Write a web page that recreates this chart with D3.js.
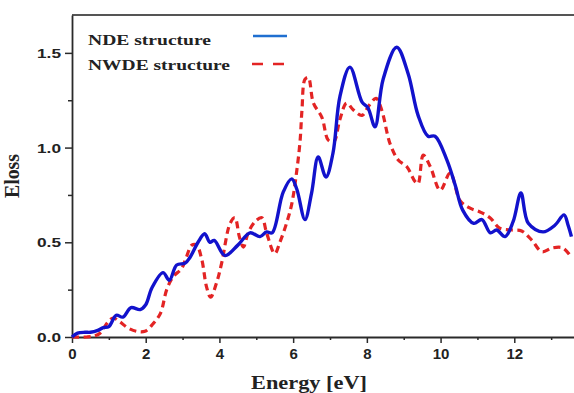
<!DOCTYPE html>
<html><head><meta charset="utf-8">
<script src="https://cdnjs.cloudflare.com/ajax/libs/d3/7.8.5/d3.min.js"></script>
<style>
html,body{margin:0;padding:0;background:#fff;}
svg{display:block;}
</style></head>
<body>
<svg id="chart" width="574" height="393"></svg>
<script>
// ---- data ----
const ndeEnergy = [0, 0.15, 0.35, 0.5, 0.7, 0.85, 1.0, 1.2, 1.38, 1.6, 1.85, 2.0, 2.17, 2.47, 2.64, 2.84, 3.07, 3.2, 3.42, 3.6, 3.74, 3.86, 4.15, 4.5, 4.83, 5.1, 5.28, 5.43, 5.73, 5.96, 6.1, 6.32, 6.5, 6.68, 6.89, 7.08, 7.27, 7.54, 7.87, 8.03, 8.22, 8.44, 8.81, 9.12, 9.39, 9.66, 9.85, 10.17, 10.4, 10.6, 10.9, 11.12, 11.35, 11.52, 11.75, 11.97, 12.18, 12.38, 12.78, 13.1, 13.35, 13.46, 13.55];
const ndeEloss  = [0, 0.02, 0.025, 0.025, 0.035, 0.05, 0.055, 0.115, 0.105, 0.155, 0.145, 0.17, 0.26, 0.34, 0.30, 0.38, 0.39, 0.42, 0.50, 0.545, 0.50, 0.51, 0.43, 0.485, 0.55, 0.53, 0.555, 0.55, 0.765, 0.835, 0.78, 0.62, 0.76, 0.95, 0.845, 0.97, 1.27, 1.425, 1.24, 1.21, 1.11, 1.36, 1.53, 1.39, 1.17, 1.06, 1.06, 0.935, 0.80, 0.67, 0.60, 0.62, 0.55, 0.565, 0.53, 0.61, 0.76, 0.60, 0.555, 0.59, 0.645, 0.59, 0.53];

const nwdeEnergy = [0, 0.4, 0.6, 0.76, 0.98, 1.12, 1.3, 1.5, 1.75, 1.98, 2.2, 2.4, 2.57, 2.75, 2.97, 3.1, 3.25, 3.38, 3.52, 3.65, 3.76, 3.92, 4.06, 4.29, 4.42, 4.54, 4.65, 4.78, 4.97, 5.15, 5.28, 5.5, 5.64, 5.82, 5.96, 6.1, 6.19, 6.24, 6.32, 6.41, 6.55, 6.78, 6.95, 7.1, 7.27, 7.45, 7.63, 7.87, 8.05, 8.25, 8.4, 8.63, 8.85, 9.08, 9.31, 9.39, 9.53, 9.72, 9.99, 10.26, 10.53, 10.8, 11.07, 11.34, 11.6, 11.94, 12.2, 12.48, 12.75, 13.03, 13.32, 13.55];
const nwdeEloss  = [0, 0, 0.005, 0.02, 0.08, 0.10, 0.08, 0.05, 0.03, 0.03, 0.07, 0.125, 0.25, 0.32, 0.36, 0.42, 0.485, 0.485, 0.41, 0.265, 0.21, 0.285, 0.39, 0.60, 0.63, 0.53, 0.475, 0.55, 0.61, 0.63, 0.55, 0.44, 0.50, 0.60, 0.70, 0.88, 1.04, 1.2, 1.36, 1.37, 1.235, 1.16, 1.04, 1.03, 1.15, 1.235, 1.20, 1.17, 1.22, 1.26, 1.20, 1.02, 0.935, 0.90, 0.82, 0.81, 0.96, 0.90, 0.775, 0.865, 0.72, 0.68, 0.66, 0.63, 0.575, 0.565, 0.56, 0.51, 0.45, 0.47, 0.47, 0.42];

const xTicks = [0,1,2,3,4,5,6,7,8,9,10,11,12,13];
const xTickLabels = ["0","","2","","4","","6","","8","","10","","12",""];
const yTicks = [0,0.25,0.5,0.75,1.0,1.25,1.5];
const yTickLabels = ["0.0","","0.5","","1.0","","1.5"];
const seriesNames = ["NDE structure","NWDE structure"];
const xTitle = "Energy [eV]";
const yTitle = "Eloss";

// ---- layout ----
const svg = d3.select("#chart");
const pLeft = 72, pRight = 574, pTop = 15, pBottom = 337;
const x = d3.scaleLinear().domain([0, 13.62]).range([pLeft, pRight]);
const y = d3.scaleLinear().domain([0, 1.7]).range([pBottom, pTop]);

const axisColor = "#2a2a2a";

// frame top line
svg.append("line").attr("x1", pLeft).attr("x2", pRight).attr("y1", pTop).attr("y2", pTop)
  .attr("stroke", "#555").attr("stroke-width", 1.8);

// x axis
const gx = svg.append("g").attr("transform", `translate(0,${pBottom})`)
  .call(d3.axisBottom(x).tickValues(xTicks).tickSizeOuter(0)
    .tickFormat((d,i) => xTickLabels[i]));
gx.select(".domain").attr("stroke", axisColor).attr("stroke-width", 1.8);
gx.selectAll(".tick line").attr("stroke", axisColor).attr("stroke-width", 1.5)
  .attr("y2", (d,i) => xTickLabels[i] ? 6 : 3);
gx.selectAll(".tick text").attr("y", 11).attr("dy", "0.71em")
  .attr("font-family", "Liberation Sans, Arial, sans-serif").attr("font-weight", "bold")
  .attr("font-size", 15).attr("fill", "#222");

// y axis
const gy = svg.append("g").attr("transform", `translate(${pLeft},0)`)
  .call(d3.axisLeft(y).tickValues(yTicks).tickSizeOuter(0)
    .tickFormat((d,i) => yTickLabels[i]));
gy.select(".domain").attr("stroke", axisColor).attr("stroke-width", 1.8);
gy.selectAll(".tick line").attr("stroke", axisColor).attr("stroke-width", 1.5)
  .attr("x2", (d,i) => yTickLabels[i] ? -7 : -4);
gy.selectAll(".tick text").attr("x", -11).attr("dy", "0.36em")
  .attr("font-family", "Liberation Sans, Arial, sans-serif").attr("font-weight", "bold")
  .attr("font-size", 13).attr("fill", "#222")
  .attr("textLength", 24).attr("lengthAdjust", "spacingAndGlyphs");

// axis titles
svg.append("text").attr("x", 309).attr("y", 389).attr("text-anchor", "middle")
  .attr("font-family", "Liberation Serif, Times New Roman, serif").attr("font-weight", "bold")
  .attr("font-size", 18).attr("fill", "#222")
  .attr("textLength", 116).attr("lengthAdjust", "spacingAndGlyphs")
  .text(xTitle);
svg.append("text").attr("transform", "translate(19,176) rotate(-90)").attr("text-anchor", "middle")
  .attr("font-family", "Liberation Serif, Times New Roman, serif").attr("font-weight", "bold")
  .attr("font-size", 20).attr("fill", "#222")
  .attr("textLength", 44).attr("lengthAdjust", "spacingAndGlyphs")
  .text(yTitle);

// lines
const line = d3.line().x(d => x(d[0])).y(d => y(d[1])).curve(d3.curveCatmullRom.alpha(0.5));
const ndeData = ndeEnergy.map((e,i) => [e, ndeEloss[i]]);
const nwdeData = nwdeEnergy.map((e,i) => [e, nwdeEloss[i]]);

svg.append("path").datum(nwdeData).attr("d", line).attr("fill", "none")
  .attr("stroke", "#e32424").attr("stroke-width", 3.2).attr("stroke-dasharray", "7,4.5");
svg.append("path").datum(ndeData).attr("d", line).attr("fill", "none")
  .attr("stroke", "#1212cc").attr("stroke-width", 3.4).attr("stroke-linejoin", "round");

// legend
const legend = svg.append("g");
legend.append("text").attr("x", 88).attr("y", 45)
  .attr("font-family", "Liberation Serif, Times New Roman, serif").attr("font-weight", "bold")
  .attr("font-size", 15).attr("fill", "#222")
  .attr("textLength", 123).attr("lengthAdjust", "spacingAndGlyphs").text(seriesNames[0]);
legend.append("text").attr("x", 88).attr("y", 70)
  .attr("font-family", "Liberation Serif, Times New Roman, serif").attr("font-weight", "bold")
  .attr("font-size", 15).attr("fill", "#222")
  .attr("textLength", 142).attr("lengthAdjust", "spacingAndGlyphs").text(seriesNames[1]);
legend.append("line").attr("x1", 253).attr("x2", 287).attr("y1", 36).attr("y2", 36)
  .attr("stroke", "#1f6fd0").attr("stroke-width", 2.5);
legend.append("line").attr("x1", 252).attr("x2", 287).attr("y1", 64).attr("y2", 64)
  .attr("stroke", "#e32424").attr("stroke-width", 2.5).attr("stroke-dasharray", "11,10");
</script>
</body></html>
